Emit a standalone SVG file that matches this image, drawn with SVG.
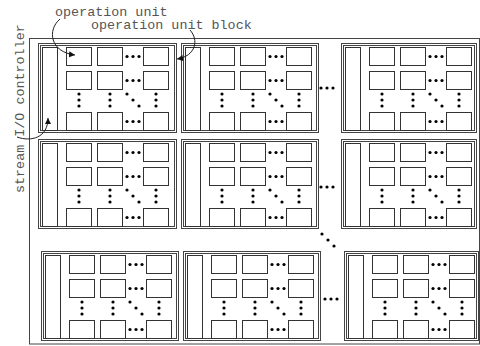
<svg xmlns="http://www.w3.org/2000/svg" xmlns:xlink="http://www.w3.org/1999/xlink" width="480" height="346" viewBox="0 0 480 346">
<style>
  .ln { fill: #fff; stroke: #333; stroke-width: 1; }
  .bd { fill: none; stroke: #444; stroke-width: 1; }
  .dt { fill: #000; }
  .lbl { font-family: "Liberation Mono", "DejaVu Sans Mono", monospace; font-size: 13.4px; fill: #555; }
  .cn { fill: none; stroke: #222; stroke-width: 1; }
</style>
<defs>
  <marker id="ah" markerWidth="7" markerHeight="7" refX="6" refY="3.5" orient="auto" markerUnits="userSpaceOnUse">
    <path d="M0,0.5 L6,3.5 L0,6.5 Z" fill="#111"/>
  </marker>
  <symbol id="core" overflow="visible">
    <rect class="ln" x="4.5" y="4.5" width="15" height="83"/>
    <rect class="ln" x="28.5" y="4.5" width="25" height="18"/>
    <rect class="ln" x="59.5" y="4.5" width="25" height="18"/>
    <rect class="ln" x="105.5" y="4.5" width="25" height="18"/>
    <rect class="ln" x="28.5" y="28.5" width="25" height="18"/>
    <rect class="ln" x="59.5" y="28.5" width="25" height="18"/>
    <rect class="ln" x="105.5" y="28.5" width="25" height="18"/>
    <rect class="ln" x="28.5" y="69.5" width="25" height="18"/>
    <rect class="ln" x="59.5" y="69.5" width="25" height="18"/>
    <rect class="ln" x="105.5" y="69.5" width="25" height="18"/>
    <g class="dt">
      <circle cx="89" cy="13.5" r="1.6"/><circle cx="95" cy="13.5" r="1.6"/><circle cx="101" cy="13.5" r="1.6"/>
      <circle cx="89" cy="37.5" r="1.6"/><circle cx="95" cy="37.5" r="1.6"/><circle cx="101" cy="37.5" r="1.6"/>
      <circle cx="89" cy="78.5" r="1.6"/><circle cx="95" cy="78.5" r="1.6"/><circle cx="101" cy="78.5" r="1.6"/>
      <circle cx="41" cy="51" r="1.6"/><circle cx="41" cy="57" r="1.6"/><circle cx="41" cy="63" r="1.6"/>
      <circle cx="72" cy="51" r="1.6"/><circle cx="72" cy="57" r="1.6"/><circle cx="72" cy="63" r="1.6"/>
      <circle cx="118" cy="51" r="1.6"/><circle cx="118" cy="57" r="1.6"/><circle cx="118" cy="63" r="1.6"/>
      <circle cx="89" cy="51" r="1.6"/><circle cx="95" cy="57" r="1.6"/><circle cx="101" cy="63" r="1.6"/>
    </g>
  </symbol>
</defs>
<rect width="480" height="346" fill="#fff"/>

<g id="array-frame">
  <rect class="bd" x="29.5" y="38.5" width="450" height="305.5"/>
</g>

<g id="block-r1c1" transform="translate(38,43)">
  <rect class="bd" x="0.5" y="0.5" width="138" height="89"/><rect class="bd" x="2.5" y="2.5" width="134" height="85"/>
  <use xlink:href="#core"/>
</g>
<g id="block-r1c2" transform="translate(181,43)">
  <rect class="bd" x="0.5" y="0.5" width="137" height="89"/><rect class="bd" x="2.5" y="2.5" width="133" height="85"/>
  <use xlink:href="#core"/>
</g>
<g id="block-r1c3" transform="translate(341,43)">
  <rect class="bd" x="0.5" y="0.5" width="135" height="89"/><rect class="bd" x="2.5" y="2.5" width="131" height="85"/>
  <use xlink:href="#core"/>
</g>

<g id="block-r2c1" transform="translate(38,139)">
  <rect class="bd" x="0.5" y="0.5" width="138" height="89"/><rect class="bd" x="2.5" y="2.5" width="134" height="85"/>
  <use xlink:href="#core"/>
</g>
<g id="block-r2c2" transform="translate(181,139)">
  <rect class="bd" x="0.5" y="0.5" width="137" height="89"/><rect class="bd" x="2.5" y="2.5" width="133" height="85"/>
  <use xlink:href="#core"/>
</g>
<g id="block-r2c3" transform="translate(341,139)">
  <rect class="bd" x="0.5" y="0.5" width="135" height="89"/><rect class="bd" x="2.5" y="2.5" width="131" height="85"/>
  <use xlink:href="#core"/>
</g>

<g id="block-r3c1" transform="translate(41,251)">
  <rect class="bd" x="0.5" y="0.5" width="137" height="89"/><rect class="bd" x="2.5" y="2.5" width="133" height="85"/>
  <use xlink:href="#core"/>
</g>
<g id="block-r3c2" transform="translate(183,251)">
  <rect class="bd" x="0.5" y="0.5" width="137" height="89"/><rect class="bd" x="2.5" y="2.5" width="133" height="85"/>
  <use xlink:href="#core"/>
</g>
<g id="block-r3c3" transform="translate(344,251)">
  <rect class="bd" x="0.5" y="0.5" width="134" height="89"/><rect class="bd" x="2.5" y="2.5" width="130" height="85"/>
  <use xlink:href="#core"/>
</g>

<g id="ellipses" class="dt">
  <circle cx="321" cy="88" r="1.6"/><circle cx="327" cy="88" r="1.6"/><circle cx="333" cy="88" r="1.6"/>
  <circle cx="321" cy="187" r="1.6"/><circle cx="327" cy="187" r="1.6"/><circle cx="333" cy="187" r="1.6"/>
  <circle cx="325" cy="299" r="1.6"/><circle cx="331" cy="299" r="1.6"/><circle cx="337" cy="299" r="1.6"/>
  <circle cx="322" cy="234" r="1.6"/><circle cx="328" cy="240" r="1.6"/><circle cx="334" cy="246" r="1.6"/>
</g>

<g id="labels">
  <text class="lbl" x="55" y="15.5">operation unit</text>
  <text class="lbl" x="91" y="28.5">operation unit block</text>
  <text class="lbl" transform="translate(24,193) rotate(-90)">stream I/O controller</text>
</g>

<g id="connectors">
  <path class="cn" d="M60,19 C47,30 50,52 75,55" marker-end="url(#ah)"/>
  <path class="cn" d="M190,30 C199,40 196,56 177,59" marker-end="url(#ah)"/>
  <path class="cn" d="M17,137 C31,142 48,138 48,118" marker-end="url(#ah)"/>
</g>
</svg>
